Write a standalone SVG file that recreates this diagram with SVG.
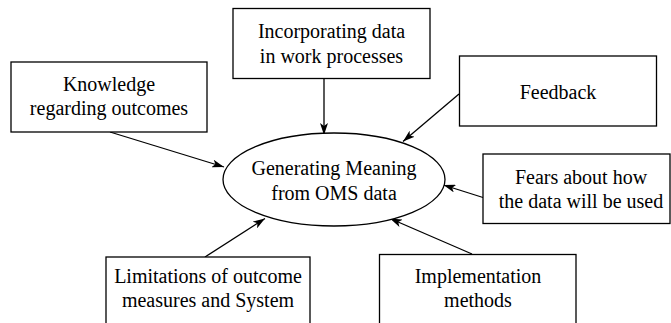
<svg xmlns="http://www.w3.org/2000/svg" width="671" height="323" viewBox="0 0 671 323">
<style>
.box{fill:#fff;stroke:#000;stroke-width:1.3}
.t{font-family:"Liberation Serif","Times New Roman",serif;font-size:20px;fill:#000;text-anchor:middle}
.c{stroke:#000;stroke-width:1.3;fill:none;marker-end:url(#ah)}
</style>
<defs>
<marker id="ah" viewBox="0 0 12 8" refX="12" refY="4" markerWidth="12" markerHeight="8" markerUnits="userSpaceOnUse" orient="auto">
<path d="M0,0 L12,4 L0,8 L3,4 Z" fill="#000"/>
</marker>
</defs>
<rect width="671" height="323" fill="#fff"/>
<g id="connectors">
<line class="c" x1="110" y1="132" x2="224" y2="167"/>
<line class="c" x1="324" y1="78" x2="324" y2="135"/>
<line class="c" x1="459" y1="94" x2="403" y2="141.5"/>
<line class="c" x1="483" y1="197.5" x2="443.5" y2="185"/>
<line class="c" x1="472" y1="254" x2="390" y2="218.5"/>
<line class="c" x1="205" y1="257" x2="265" y2="218.5"/>
</g>
<g id="center">
<ellipse class="box" cx="334" cy="179.5" rx="111" ry="46.5"/>
<text class="t" x="334" y="175">Generating Meaning</text>
<text class="t" x="334" y="200">from OMS data</text>
</g>
<g id="knowledge">
<rect class="box" x="11" y="62" width="196" height="70"/>
<text class="t" x="109" y="90.5">Knowledge</text>
<text class="t" x="109" y="114.5">regarding outcomes</text>
</g>
<g id="incorporating">
<rect class="box" x="233" y="8.5" width="197" height="70"/>
<text class="t" x="331.5" y="38">Incorporating data</text>
<text class="t" x="331.5" y="63">in work processes</text>
</g>
<g id="feedback">
<rect class="box" x="459.5" y="56" width="197" height="70"/>
<text class="t" x="558" y="99">Feedback</text>
</g>
<g id="fears">
<rect class="box" x="483" y="154" width="187" height="69.5"/>
<text class="t" x="581" y="183.5">Fears about how</text>
<text class="t" x="581" y="207.5">the data will be used</text>
</g>
<g id="implementation">
<rect class="box" x="379.5" y="254.5" width="196.5" height="80"/>
<text class="t" x="478" y="282.5">Implementation</text>
<text class="t" x="478" y="306.5">methods</text>
</g>
<g id="limitations">
<rect class="box" x="106" y="257" width="204" height="80"/>
<text class="t" x="208" y="282.5">Limitations of outcome</text>
<text class="t" x="208" y="306.5">measures and System</text>
</g>
</svg>
